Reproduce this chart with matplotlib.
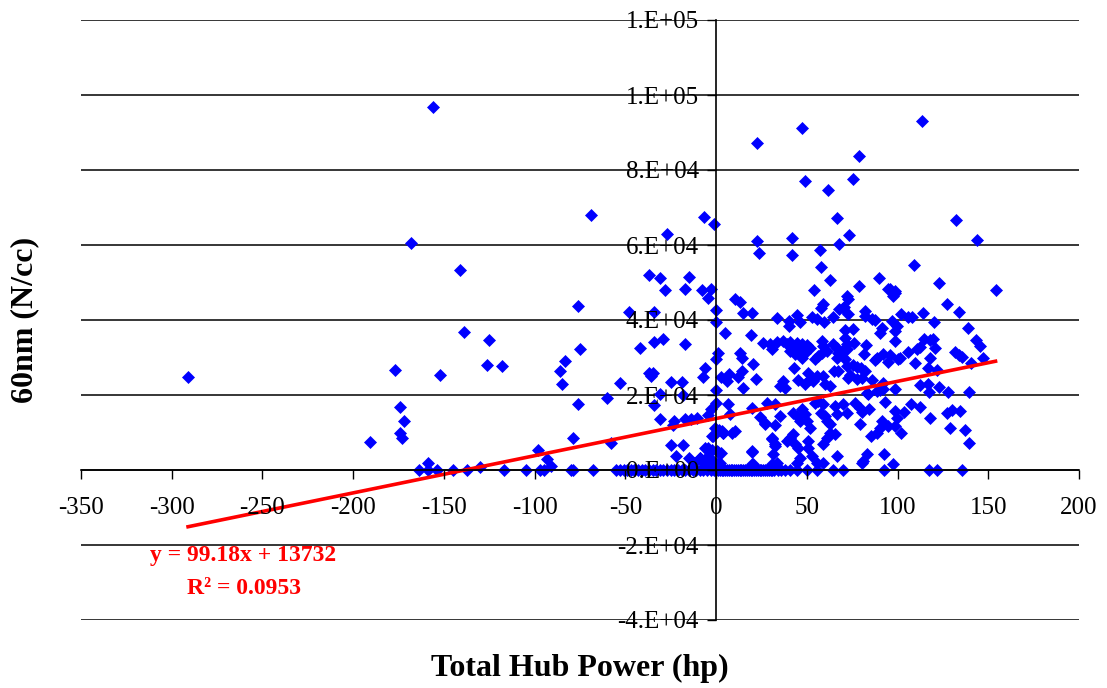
import matplotlib
matplotlib.use("Agg")
import matplotlib.pyplot as plt
import numpy as np

plt.rcParams['font.family'] = ['Liberation Serif', 'DejaVu Serif']
plt.rcParams['axes.unicode_minus'] = False

# hub power (hp) and 60nm particle count (N/cc)
hp = [
    -291, -156, -191, -177, -174, -172, -174, -173, -168, -141, -139, -125, -126, -118, -152, -159, -130,
    -98, -93, -91, -79, -58, -60, -76, -85, -86, -83, -75, -76, -69, -53, -48, -42, -37, -31, -34, -34,
    -29, -28, -27, -17, -15, -17, -37, -36, -35, -25, -19, -31, -34, -18, -31, -23, -24, -17, -14, -25,
    -18, -22, -15, -12,
    -6, -5, -9, -6, -2, 1, -1.6, 2, -1.6, 1.6, 4, 9, 20, 20, 27, 31, 32.5, 31,
    22.6, 47.4, 113.5, 79, 49, 75.5, 61.7, 66.7, -6.6, -1, 132, 144, 73, 22.6, 42, 68, 23.7, 42, 57, 58,
    63, 90, 109, 123, 79, -7.7, -2.8, 54, 95, 98.6, 154,
    -4.4, 10.5, 13.2, 72, 0, 15, 20, 33.6, 44.6, 40, 46, 53, 55.6, 59, 58, 59.5, 64.5, 67.8, 70.5,
    0, 5, 19, 40,
    25.9, 29.8, 30.9, 33.6, 36.9, 39.1, 40.8, 42.4, 44.6, 47.4, 50.1, 51.8, 58.4, 59, 64.5, 66.7, 69.4, 72.2,
    1.1, 0, 13.2, 14.3, 20.4, 40.8, 43.5, 45.2, 49, 47.4, 54.5, 56.2, 58.4, 61.2, 66.7, 67.2, 71, 72.2,
    -6.1, -7.2, 2.8, 7.2, 6.1, 12.1, 14.3, 22, 14.9, 35.3, 38, 36.9, 43, 45.2, 49, 50.7, 51.8, 53.4, 55.6,
    59, 60, 62.8, 65, 67.2, 72.2,
    0, 0, -2.8, -4.4, -10.5, 6.6, 7.7, 19.8, 24.2, 28.1, 32.5, 35.3, 27, 32.5, 42.4, 44.6, 47.4, 49, 46.3,
    50.1, 51.8, 54.5, 56.2, 59, 57.9, 60, 61.2, 62.8, 65.6, 66.7, 70, 72.2,
    -0.6, -2.2, 3.3, 3.9, -4.4, -5, -8.8, -6.1, 0.6, 2.8, 1.1, 10.5, 19.8, 20.4, 30.9, 32.5, 31.4, 33.6,
    39.1, 40.8, 42.4, 43.5, 45.2, 46.3, 44.6, 50.7, 50.7, 52.9, 55.6, 59, 59, 61.2, 62.8, 65.6, 66.7,
    95.9, 97.5, 98.6, 72.7, 70, 72.7, 82, 82, 86, 87.6, 102, 105.8, 108, 114, 127, 134, 120, 97,
    91.5, 90.4, 99.7, 98.6, 98.6, 71, 75.5, 71, 76, 82.6, 81.5, 87.6, 88.7, 92, 95.9, 94.8, 100.3, 101.4,
    105.8, 109.6, 110.7, 112.4, 114.6, 117.9, 119.6, 120.7, 117.9, 116.8, 121.8, 131.7, 133.9, 135.5,
    138.9, 143.3, 145.5, 147.1, 140.5,
    75.5, 77.7, 79.9, 82, 73.8, 72.7, 77.7, 80.5, 86, 92, 92, 88.7, 90.4, 83.2, 83.8, 98.6,
    112.4, 116.8, 117.4, 122.9, 127.8, 139.4,
    76.6, 79.3, 80.5, 84.3, 79.3, 93.1, 98.6, 99.7, 103.6, 107.4, 112.4, 91.5, 90.4, 88.7, 85.4, 94.8,
    98.6, 102, 117.9, 127.3, 130, 134.4, 129, 137, 139.4, 83.2, 81, 80.5, 92.6, 97.5,
]
n60 = [
    24800, 96800, 7600, 26700, 16800, 13100, 9900, 8500, 60500, 53300, 36800, 34700, 28000, 27700, 25300, 1900, 900,
    5300, 2900, 1100, 8500, 7200, 19200, 17600, 22900, 26400, 29100, 32300, 43700, 68000, 23200, 42100, 32500, 52000, 51200, 42100, 34100,
    35000, 48000, 63000, 48300, 51500, 33600, 25900, 25100, 25900, 23500, 23500, 20300, 17300, 20000, 13600, 13100, 12000, 13600, 13600, 6700,
    6700, 3700, 3200, 1900,
    5900, 3500, 3200, 1900, 5300, 4800, 2400, 1900, 9000, 10700, 9900, 9900, 4800, 1600, 12300, 8300, 6400, 1600,
    87200, 91200, 93100, 83700, 77100, 77600, 74700, 67200, 67500, 65600, 66700, 61300, 62700, 61100, 61900, 60300, 57900, 57300, 58700, 54100,
    50700, 51200, 54700, 49900, 49100, 48000, 48300, 48000, 48300, 47700, 48000,
    45900, 45600, 44800, 46400, 42700, 41900, 41900, 40500, 41300, 39700, 39500, 40800, 40300, 44300, 43200, 39500, 40800, 42900, 43500,
    39500, 36500, 36000, 38400,
    33900, 33600, 32300, 34100, 34400, 33600, 34100, 33100, 33900, 33600, 33300, 32500, 34400, 33100, 33600, 32500, 31700, 33600,
    31200, 29600, 31200, 29900, 28300, 31700, 30900, 32300, 31200, 29900, 29600, 30400, 31200, 31700, 29900, 31200, 29600, 32300,
    27200, 24800, 24800, 25600, 23700, 24800, 26400, 24300, 21900, 22400, 21900, 23700, 27200, 24000, 22900, 25900, 24300, 23700, 25100,
    25100, 22900, 22400, 26400, 26400, 27700,
    21300, 17900, 16300, 14700, 13900, 17600, 14900, 16500, 14100, 17900, 17600, 14400, 12500, 12000, 15200, 14400, 16300, 14900, 13100,
    13100, 11200, 17900, 18400, 17600, 15200, 14400, 13100, 12300, 17100, 14900, 17600, 15200,
    11200, 9100, 10400, 9900, 5900, 3200, 3200, 1600, 5100, 4500, 1900, 10400, 5100, 1600, 8500, 6900, 4300, 1900,
    7700, 8500, 9600, 6900, 5900, 3200, 1900, 7700, 5900, 3700, 1900, 6900, 1900, 8500, 9900, 9600, 3700,
    48300, 46400, 47200, 45600, 43200, 41600, 42400, 41100, 40300, 40000, 41600, 40800, 40800, 41900, 44300, 42100, 39500, 39700,
    37900, 36500, 38400, 37100, 34400, 37300, 37600, 35200, 33900, 33300, 30900, 29300, 29900, 30900, 30700, 28800, 29600, 29900,
    31500, 28500, 32300, 32800, 34900, 34700, 34900, 32500, 29900, 27200, 26700, 31500, 30700, 30100,
    37900, 34700, 33100, 29900, 28500,
    28000, 27500, 27200, 26400, 25300, 24500, 24300, 24500, 24000, 23200, 21600, 21100, 21300, 20500, 20300, 21600,
    22700, 22900, 20800, 22100, 20800, 20800,
    17900, 16500, 15500, 16300, 12300, 18100, 15700, 13900, 15500, 17600, 16800, 13100, 11200, 9900, 9100, 11700,
    11700, 9900, 13900, 15200, 16000, 15700, 11200, 10700, 7200, 4300, 2400, 1900, 4300, 1600,
]

# points sitting on zero
hp_zero = [
    -164, -159, -154, -145, -137, -117, -105, -97, -95, -80, -79, -68,
    -55, -53, -51, -49, -47, -45, -43, -41, -39, -37, -35, -33, -31, -29, -27, -25, -23, -21, -19, -17,
    -15, -13, -11, -9, -7, -5, -3, -1, 0, 1, 2, 3, 4, 5, 6, 7, 8, 9, 10, 11, 12, 13, 14, 15, 16, 17, 18,
    19, 20, 21, 22, 23, 24, 25, 26, 27, 28, 29, 30, 31, 32, 34, 36, 38,
    40.8, 44.6, 50.1, 55.6, 64.5, 70, 92.6, 117.4, 121.8, 135.5,
]

slope = 99.18
intercept = 13732

yticks = [-40000, -20000, 0, 20000, 40000, 60000, 80000, 100000, 120000]
ylabels = ['-4.E+04', '-2.E+04', '0.E+00', '2.E+04', '4.E+04', '6.E+04', '8.E+04', '1.E+05', '1.E+05']
xticks = [-350, -300, -250, -200, -150, -100, -50, 0, 50, 100, 150, 200]

fig = plt.figure(figsize=(11.07, 6.88), dpi=100)
ax = fig.add_axes([81 / 1107, 1 - 620 / 688, 998 / 1107, 600 / 688])

# gridlines drawn by hand so the tick labels can sit above the markers
for yt in yticks:
    ax.axhline(yt, color='black', lw=1.1, zorder=0.5)

x_all = hp + hp_zero
y_all = n60 + [0] * len(hp_zero)
ax.plot(x_all, y_all, linestyle='none', marker='D', markersize=5.7,
        color='#0000FF', markeredgewidth=0.5, zorder=1.5)

xs = np.array([min(x_all), max(x_all)])
ax.plot(xs, slope * xs + intercept, color='#FF0000', lw=2.6, zorder=1.8)

ax.set_xlim(-350, 200)
ax.set_ylim(-40000, 120000)
ax.set_xticks(xticks)
ax.set_yticks(yticks)
ax.set_yticklabels(ylabels)

for s in ['top', 'right']:
    ax.spines[s].set_visible(False)
ax.spines['left'].set_position(('data', 0))
ax.spines['bottom'].set_position(('data', 0))
ax.spines['left'].set_linewidth(1.2)
ax.spines['bottom'].set_linewidth(1.2)

ax.set_axisbelow(False)
ax.tick_params(axis='x', direction='out', length=6.5, width=1, pad=13, labelsize=18)
ax.tick_params(axis='y', direction='out', length=6.5, width=1, pad=6, labelsize=18)

fig.text(580 / 1107, 1 - 668 / 688, 'Total Hub Power (hp)', ha='center', va='center',
         fontsize=23, fontweight='bold')
fig.text(25 / 1107, 1 - 320 / 688, '60nm (N/cc)', ha='center', va='center', rotation=90,
         fontsize=23, fontweight='bold')

fig.text(243 / 1107, 1 - 556 / 688, 'y = 99.18x + 13732', ha='center', va='center',
         fontsize=17, fontweight='bold', color='#FF0000')
fig.text(244 / 1107, 1 - 588 / 688, 'R² = 0.0953', ha='center', va='center',
         fontsize=17, fontweight='bold', color='#FF0000')

fig.savefig('out.png', dpi=100)
